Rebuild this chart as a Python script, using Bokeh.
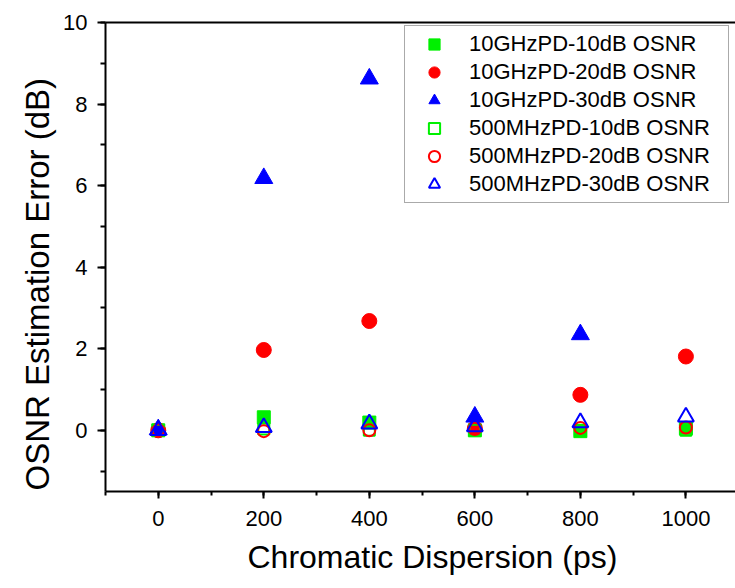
import numpy as np
from bokeh.plotting import figure
from bokeh.models import (Range1d, SingleIntervalTicker, FixedTicker, LinearAxis, Legend,
                          LegendItem, ColumnDataSource, Title)
from bokeh.embed import file_html
from bokeh.resources import INLINE

# Chromatic dispersion (ps)
cd = [0, 200, 400, 600, 800, 1000]

# OSNR estimation error (dB)
ghz10_10db = [0.0, 0.32, 0.19, 0.0, -0.02, 0.05]
ghz10_20db = [0.0, 1.97, 2.68, 0.05, 0.87, 1.81]
ghz10_30db = [0.02, 6.18, 8.62, 0.33, 2.35, np.nan]
mhz500_10db = [0.0, 0.03, 0.0, 0.0, 0.0, 0.0]
mhz500_20db = [0.0, -0.02, 0.0, 0.03, 0.06, 0.07]
mhz500_30db = [0.0, 0.07, 0.16, 0.09, 0.19, 0.33]

labels = ["10GHzPD-10dB OSNR", "10GHzPD-20dB OSNR", "10GHzPD-30dB OSNR",
          "500MHzPD-10dB OSNR", "500MHzPD-20dB OSNR", "500MHzPD-30dB OSNR"]
x_title = "Chromatic Dispersion (ps)"
y_title = "OSNR Estimation Error (dB)"

FONT = "Liberation Sans"
GREEN, RED, BLUE = "#00f000", "#ff0000", "#0000ff"

p = figure(width=735, height=588, output_backend="svg", toolbar_location=None,
           x_range=Range1d(-100, 1094), y_range=Range1d(-1.5, 10),
           min_border_left=105, min_border_right=0, min_border_top=22, min_border_bottom=97)
p.outline_line_color = None
p.xgrid.visible = False
p.ygrid.visible = False
p.background_fill_color = "white"
p.border_fill_color = "white"

def src(vals):
    return ColumnDataSource(dict(x=np.array(cd, dtype=float), y=np.array(vals, dtype=float)))

r1 = p.scatter("x", "y", source=src(ghz10_10db), marker="square", size=13,
               fill_color=GREEN, line_color=GREEN, line_width=1)
r2 = p.scatter("x", "y", source=src(ghz10_20db), marker="circle", size=15,
               fill_color=RED, line_color=RED, line_width=1)
r3 = p.scatter("x", "y", source=src(ghz10_30db), marker="triangle", size=18,
               fill_color=BLUE, line_color=BLUE, line_width=1)
r4 = p.scatter("x", "y", source=src(mhz500_10db), marker="square", size=11,
               fill_color=None, line_color=GREEN, line_width=2)
r5 = p.scatter("x", "y", source=src(mhz500_20db), marker="circle", size=12,
               fill_color=None, line_color=RED, line_width=2)
r6 = p.scatter("x", "y", source=src(mhz500_30db), marker="triangle", size=16,
               fill_color=None, line_color=BLUE, line_width=2)

legend = Legend(items=[LegendItem(label=l, renderers=[r]) for l, r in
                       zip(labels, [r1, r2, r3, r4, r5, r6])],
                location=(299, 288), orientation="vertical")
legend.glyph_width = 50
legend.glyph_height = 28
legend.label_height = 28
legend.label_width = 255
legend.spacing = 0
legend.padding = 4
legend.label_standoff = 10
legend.label_text_font = FONT
legend.label_text_font_size = "22px"
legend.label_text_color = "black"
legend.border_line_color = "#555555"
legend.border_line_width = 1
legend.background_fill_color = "white"
legend.background_fill_alpha = 1.0
legend.margin = 0
p.add_layout(legend, "center")

# axes
xa = p.xaxis[0]
xa.ticker = SingleIntervalTicker(interval=200, num_minor_ticks=2)
ya = p.yaxis[0]
ya.ticker = SingleIntervalTicker(interval=2, num_minor_ticks=2)

for ax in (xa, ya):
    ax.axis_line_width = 2
    ax.axis_line_color = "black"
    ax.major_tick_line_width = 2
    ax.minor_tick_line_width = 2
    ax.major_tick_line_color = "black"
    ax.minor_tick_line_color = "black"
    ax.major_tick_in = 0
    ax.minor_tick_in = 0
    ax.major_label_text_font = FONT
    ax.major_label_text_font_size = "22px"
    ax.major_label_text_color = "black"

xa.major_tick_out = 7
xa.minor_tick_out = 4
xa.major_label_standoff = 12

ya.major_tick_out = 8
ya.minor_tick_out = 5
ya.major_label_standoff = 10

top = LinearAxis(ticker=FixedTicker(ticks=[]),
                 major_tick_line_color=None, minor_tick_line_color=None,
                 axis_line_width=2, axis_line_color="black")
p.add_layout(top, "above")

# axis titles (as titles so they can be offset like the original)
yt = Title(text=y_title, align="left", offset=1, standoff=10,
           text_font=FONT, text_font_size="33px", text_font_style="normal",
           text_color="black")
p.add_layout(yt, "left")
xt = Title(text=x_title, align="left", offset=142, standoff=16,
           text_font=FONT, text_font_size="32px", text_font_style="normal",
           text_color="black")
p.add_layout(xt, "below")

open("out.html", "w").write(file_html(p, INLINE))
